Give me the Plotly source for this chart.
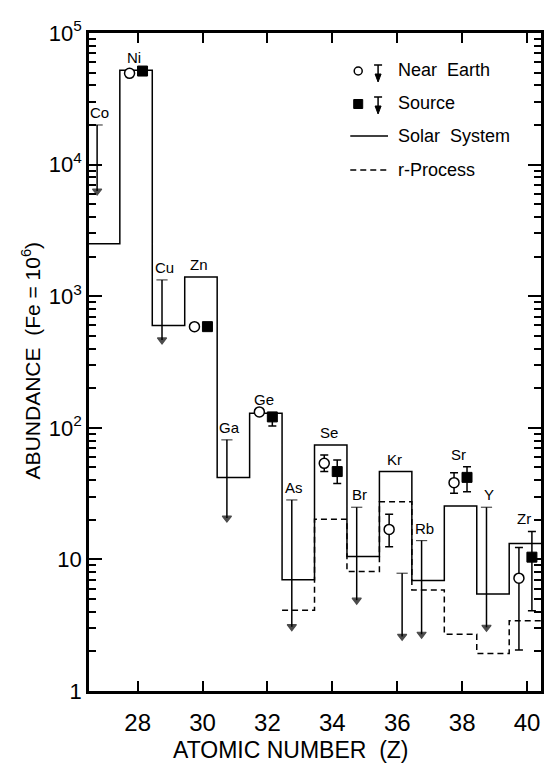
import numpy as np
import plotly.graph_objects as go

# ---------------- data ----------------
elements = ["Co", "Ni", "Cu", "Zn", "Ga", "Ge", "As", "Se", "Br", "Kr", "Rb", "Sr", "Y", "Zr"]
z_numbers = [27, 28, 29, 30, 31, 32, 33, 34, 35, 36, 37, 38, 39, 40]
solar_system = [2500, 52000, 600, 1400, 42, 129, 7.0, 74, 10.5, 46.5, 6.9, 25.5, 5.45, 13.2]
r_process = [None, None, None, None, None, None, 4.1, 20.2, 8.1, 27.4, 5.85, 2.7, 1.93, 3.42]

# Near Earth measurements (value, upper end of error bar, lower end of error bar)
ne_elements = ["Ni", "Zn", "Ge", "Se", "Kr", "Sr", "Zr"]
ne_values = [49400, 587, 132, 53.7, 16.9, 38.3, 7.2]
ne_hi = [None, None, None, 62, 22, 45.6, 12.3]
ne_lo = [None, None, None, 46.5, 12.5, 31.8, 2.05]

# Source measurements
src_elements = ["Ni", "Zn", "Ge", "Se", "Sr", "Zr"]
src_values = [51400, 587, 121, 46.5, 42, 10.4]
src_hi = [None, None, 129, 57, 50.6, 16.3]
src_lo = [None, None, 103, 37.8, 32.7, 4.07]

# Upper limits (top of bar, end of arrow)
ne_lim_elements = ["Co", "Cu", "Ga", "As", "Br", "Rb", "Y"]
ne_lim_top = [20000, 1330, 81, 28.3, 24.9, 13.9, 24.9]
ne_lim_end = [6300, 465, 20.6, 3.08, 4.9, 2.7, 3.05]

src_lim_elements = ["Kr"]
src_lim_top = [7.85]
src_lim_end = [2.6]

x_ticks = [28, 30, 32, 34, 36, 38, 40]
y_ticks = [1, 10, 100, 1000, 10000, 100000]
y_ticktext = ["1", "10", "10<sup>2</sup>", "10<sup>3</sup>", "10<sup>4</sup>", "10<sup>5</sup>"]

# ---------------- figure ----------------
FONT = "Liberation Sans, Arial, sans-serif"
zmap = dict(zip(elements, z_numbers))
NE_OFF, SRC_OFF = -0.25, 0.15

fig = go.Figure()

# Solar system histogram
sx = [z - 0.55 for z in z_numbers] + [z_numbers[-1] + 0.45]
sy = solar_system + [solar_system[-1]]
fig.add_trace(go.Scatter(x=sx, y=sy, mode="lines",
                         line=dict(shape="hv", color="black", width=1.5), hoverinfo="skip"))

# r-process histogram
idx = [i for i, v in enumerate(r_process) if v is not None]
rx = [z_numbers[i] - 0.55 for i in idx] + [z_numbers[idx[-1]] + 0.45]
ry = [r_process[i] for i in idx] + [r_process[idx[-1]]]
fig.add_trace(go.Scatter(x=rx, y=ry, mode="lines",
                         line=dict(shape="hv", color="black", width=1.5, dash="6px,4px"),
                         hoverinfo="skip"))


def errs(vals, hi, lo):
    up = [(h - v) if h is not None else 0 for v, h in zip(vals, hi)]
    dn = [(v - l) if l is not None else 0 for v, l in zip(vals, lo)]
    return up, dn


up, dn = errs(ne_values, ne_hi, ne_lo)
fig.add_trace(go.Scatter(
    x=[zmap[e] + NE_OFF for e in ne_elements], y=ne_values, mode="markers",
    marker=dict(symbol="circle", size=10, color="white", line=dict(color="black", width=1.5)),
    error_y=dict(type="data", symmetric=False, array=up, arrayminus=dn,
                 color="black", thickness=1.5, width=4)))

up, dn = errs(src_values, src_hi, src_lo)
fig.add_trace(go.Scatter(
    x=[zmap[e] + SRC_OFF for e in src_elements], y=src_values, mode="markers",
    marker=dict(symbol="square", size=10, color="black", line=dict(color="black", width=1)),
    error_y=dict(type="data", symmetric=False, array=up, arrayminus=dn,
                 color="black", thickness=1.5, width=4)))


def add_limits(els, tops, ends, off):
    xs = [zmap[e] + off for e in els]
    for x, t, b in zip(xs, tops, ends):
        fig.add_trace(go.Scatter(x=[x, x], y=[t, b], mode="lines+markers",
                                 line=dict(color="black", width=1.5),
                                 marker=dict(symbol=["line-ew", "triangle-down"], size=[8, 8],
                                             color="black", line=dict(color="black", width=1.2)),
                                 hoverinfo="skip"))


add_limits(ne_lim_elements, ne_lim_top, ne_lim_end, NE_OFF)
add_limits(src_lim_elements, src_lim_top, src_lim_end, SRC_OFF)

# Element labels above the highest feature of each element
for i, e in enumerate(elements):
    cands = [solar_system[i]]
    if e in ne_elements:
        j = ne_elements.index(e)
        cands.append(ne_hi[j] or ne_values[j])
    if e in src_elements:
        j = src_elements.index(e)
        cands.append(src_hi[j] or src_values[j])
    lim = e in ne_lim_elements
    if lim:
        cands.append(ne_lim_top[ne_lim_elements.index(e)])
    top = max(cands)
    fig.add_annotation(x=zmap[e] + (-0.17 if lim else -0.1), y=np.log10(top),
                       xref="x", yref="y", text=e, showarrow=False,
                       yanchor="bottom", yshift=2,
                       font=dict(family=FONT, size=15, color="black"))

# ---------------- legend (drawn manually) ----------------
L, R, T, B = 89, 544, 33, 691


def px(x):
    return (x - L) / (R - L)


def py(y):
    return (B - y) / (B - T)


shapes = []
shapes.append(dict(type="circle", xref="paper", yref="paper", xsizemode="pixel", ysizemode="pixel",
                   xanchor=px(360), yanchor=py(71), x0=-4, x1=4, y0=-4, y1=4,
                   line=dict(color="black", width=1.5), fillcolor="white"))
shapes.append(dict(type="rect", xref="paper", yref="paper", xsizemode="pixel", ysizemode="pixel",
                   xanchor=px(360), yanchor=py(104), x0=-4.5, x1=4.5, y0=-4.5, y1=4.5,
                   line=dict(color="black", width=1), fillcolor="black"))
for ybot in [82, 114]:
    shapes.append(dict(type="path", xref="paper", yref="paper", xsizemode="pixel",
                       ysizemode="pixel", xanchor=px(380), yanchor=py(ybot),
                       path="M -4 17 L 4 17 M 0 17 L 0 6",
                       line=dict(color="black", width=1.5)))
    shapes.append(dict(type="path", xref="paper", yref="paper", xsizemode="pixel",
                       ysizemode="pixel", xanchor=px(380), yanchor=py(ybot),
                       path="M 0 0 L -3 8 L 3 8 Z",
                       line=dict(color="black", width=1), fillcolor="black"))
shapes.append(dict(type="line", xref="paper", yref="paper", x0=px(352), x1=px(390),
                   y0=py(136), y1=py(136), line=dict(color="black", width=1.5)))
shapes.append(dict(type="line", xref="paper", yref="paper", x0=px(352), x1=px(390),
                   y0=py(170), y1=py(170), line=dict(color="black", width=1.5, dash="6px,4px")))

for txt, yy in [("Near  Earth", 70), ("Source", 103), ("Solar  System", 136), ("r-Process", 170)]:
    fig.add_annotation(x=px(398), y=py(yy), xref="paper", yref="paper", text=txt,
                       showarrow=False, xanchor="left", yanchor="middle",
                       font=dict(family=FONT, size=18, color="black"))

# axis titles
fig.add_annotation(x=px(292), y=0, xref="paper", yref="paper", text="ATOMIC NUMBER  (Z)",
                   showarrow=False, xanchor="center", yanchor="middle", yshift=-59,
                   font=dict(family=FONT, size=23, color="black"))
fig.add_annotation(x=px(31), y=py(360), xref="paper", yref="paper",
                   text="ABUNDANCE  (Fe = 10<sup>6</sup>)", textangle=-90,
                   showarrow=False, xanchor="center", yanchor="middle",
                   font=dict(family=FONT, size=21, color="black"))

minor_vals = [k * 10 ** p for p in range(5) for k in range(2, 10)]

fig.update_layout(
    width=550, height=763,
    margin=dict(l=L, r=550 - R, t=T, b=763 - B),
    paper_bgcolor="white", plot_bgcolor="white",
    showlegend=False,
    shapes=shapes,
    font=dict(family=FONT, color="black"),
    xaxis=dict(range=[26.5, 40.43], tickvals=x_ticks, ticks="inside", ticklen=10, tickwidth=2,
               tickcolor="black", showline=True, linewidth=2.5, linecolor="black", mirror="ticks",
               showgrid=False, zeroline=False, tickfont=dict(size=24, family=FONT),
               ticklabelstandoff=8),
    yaxis=dict(type="log", range=[0, 5], tickvals=y_ticks, ticktext=y_ticktext,
               ticks="inside", ticklen=13, tickwidth=2, tickcolor="black",
               minor=dict(tickmode="array", tickvals=minor_vals, ticks="inside", ticklen=7,
                          tickwidth=1.5, tickcolor="black", showgrid=False),
               showline=True, linewidth=2.5, linecolor="black", mirror="ticks",
               showgrid=False, zeroline=False, tickfont=dict(size=22, family=FONT)),
)

fig.write_html("out.html")
